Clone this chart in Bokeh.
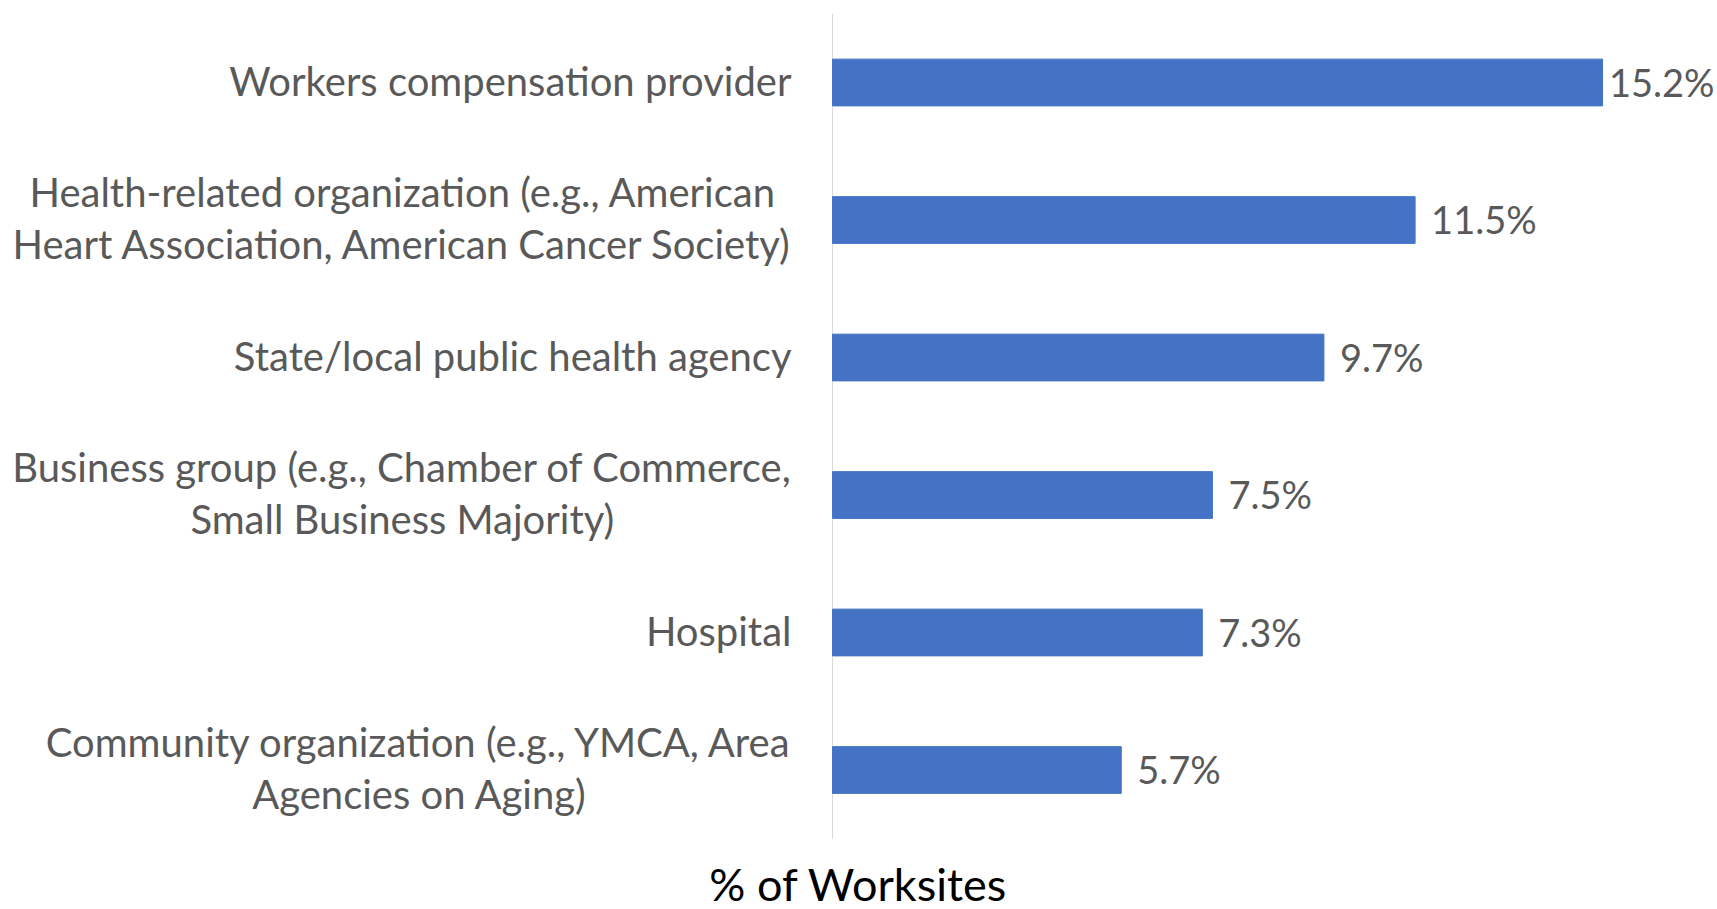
import glob, os, subprocess
from bokeh.plotting import figure, ColumnDataSource
from bokeh.models import Range1d
from bokeh.core.properties import value
from bokeh.embed import file_html
from bokeh.resources import INLINE

categories = [
    "Workers compensation provider",
    "Health-related organization (e.g., American\nHeart Association, American Cancer Society)",
    "State/local public health agency",
    "Business group (e.g., Chamber of Commerce,\nSmall Business Majority)",
    "Hospital",
    "Community organization (e.g., YMCA, Area\nAgencies on Aging)",
]
values = [15.2, 11.5, 9.7, 7.5, 7.3, 5.7]
value_labels = [f"{v}%" for v in values]
axis_title = "% of Worksites"

# ---- layout / style constants ----
FONT = "Lato"
GREY = "#595959"
W, H = 1717, 909
AXIS_PX = 832          # x pixel of the value axis (0 %)
FIRST_ROW_PX = 82      # y pixel of the first category centre
ROW_PX = 137.5         # pixels per category row
PX_PER_UNIT = 50.66    # pixels per 1 %
CAT_SIZE = 40
VAL_SIZE = 38
TITLE_SIZE = 45
LABEL_GAP = 41
VALUE_GAP = 16
TITLE_CENTER_PX = 858
TITLE_MIDDLE_PX = 883


def _font_path():
    for pat in ["/usr/share/fonts/**/Lato-Regular.ttf", "/usr/local/share/fonts/**/Lato-Regular.ttf",
                os.path.expanduser("~/.fonts/**/Lato-Regular.ttf"),
                os.path.expanduser("~/.local/share/fonts/**/Lato-Regular.ttf")]:
        hits = glob.glob(pat, recursive=True)
        if hits:
            return hits[0]
    try:
        out = subprocess.run(["fc-match", "-f", "%{file}", "Lato"], capture_output=True, text=True).stdout
        if out and os.path.exists(out):
            return out
    except Exception:
        pass
    return None


_FP = _font_path()


def text_width(txt, size):
    lines = txt.split("\n")
    try:
        from PIL import ImageFont
        f = ImageFont.truetype(_FP, size)
        return max(f.getlength(l) for l in lines)
    except Exception:
        return max(len(l) for l in lines) * 0.5 * size


n = len(categories)
rows = [-i for i in range(n)]   # category index -> y (first category on top)

label_w = [text_width(c, CAT_SIZE) for c in categories]
label_offsets = [-(LABEL_GAP + w / 2) for w in label_w]
right_px = W - AXIS_PX
val_offsets = []
for v, t in zip(values, value_labels):
    room = right_px - v * PX_PER_UNIT - text_width(t, VAL_SIZE) - 3
    val_offsets.append(max(4, min(VALUE_GAP, room)))

src = ColumnDataSource(dict(row=rows, cat=categories, val=values, lab=value_labels,
                            zero=[0] * n, loff=label_offsets, voff=val_offsets))

y_top = FIRST_ROW_PX / ROW_PX
y_bottom = -(H - FIRST_ROW_PX) / ROW_PX
p = figure(
    width=W, height=H,
    x_range=Range1d(-AXIS_PX / PX_PER_UNIT, (W - AXIS_PX) / PX_PER_UNIT),
    y_range=Range1d(y_bottom, y_top),
    output_backend="svg", toolbar_location=None,
    min_border_left=0, min_border_right=0, min_border_top=0, min_border_bottom=0,
)
p.outline_line_color = None
p.xgrid.visible = False
p.ygrid.visible = False
p.xaxis.visible = False
p.yaxis.visible = False
p.background_fill_color = "white"
p.border_fill_color = "white"

# value axis line (0 %), spanning the category band
p.segment(x0=[0], x1=[0], y0=[0.5], y1=[-(n - 1) - 0.5], line_color="#D9D9D9", line_width=1)

p.hbar(y="row", right="val", left=0, height=0.34, color="#4472C4", source=src)
p.text(x="val", y="row", text="lab", x_offset="voff", y_offset=-1, source=src,
       text_baseline="middle", text_align="left", text_color=GREY,
       text_font=value(FONT), text_font_size=f"{VAL_SIZE}px")
p.text(x="zero", y="row", text="cat", x_offset="loff", y_offset=-2, source=src,
       text_baseline="middle", text_align="center", text_color=GREY,
       text_font=value(FONT), text_font_size=f"{CAT_SIZE}px", text_line_height=1.07)

# axis title
p.text(x=[(TITLE_CENTER_PX - AXIS_PX) / PX_PER_UNIT],
       y=[-(TITLE_MIDDLE_PX - FIRST_ROW_PX) / ROW_PX],
       text=[axis_title], text_align="center", text_baseline="middle",
       text_color="#000000", text_font=value(FONT), text_font_size=f"{TITLE_SIZE}px")

open("out.html", "w").write(file_html(p, INLINE))
